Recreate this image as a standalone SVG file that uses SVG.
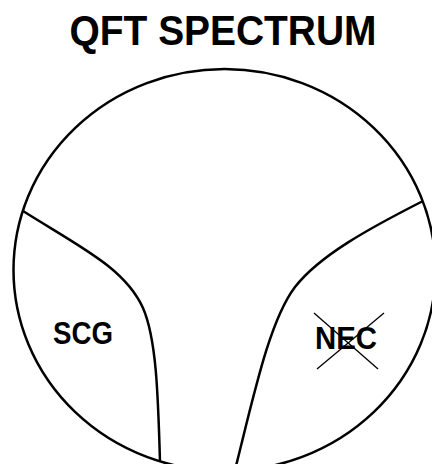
<svg xmlns="http://www.w3.org/2000/svg" width="432" height="464" viewBox="0 0 432 464">
<style>
.line{fill:none;stroke:#000;stroke-width:2.5}
.x{stroke:#000;stroke-width:1.3}
.t{font-family:"Liberation Sans",Arial,sans-serif;font-weight:bold;fill:#000;text-anchor:middle}
</style>
<rect width="432" height="464" fill="#fff"/>
<text class="t" x="223" y="45" font-size="42" textLength="307" lengthAdjust="spacingAndGlyphs">QFT SPECTRUM</text>
<g id="connectors">
<ellipse class="line" cx="224.5" cy="270" rx="211" ry="201"/>
<path class="line" d="M23,211 C80,247 125,268 143,308 C156,338 158,390 160,462"/>
<path class="line" d="M423,201 C370,228 320,255 295,287 C270,320 255,390 236,466"/>
</g>
<g id="scg">
<text class="t" x="83" y="344" font-size="31" textLength="60" lengthAdjust="spacingAndGlyphs">SCG</text>
</g>
<g id="nec">
<text class="t" x="346" y="349" font-size="32" textLength="62" lengthAdjust="spacingAndGlyphs">NEC</text>
<line class="x" x1="314" y1="313" x2="378" y2="369"/>
<line class="x" x1="384" y1="313" x2="317" y2="369"/>
</g>
</svg>
